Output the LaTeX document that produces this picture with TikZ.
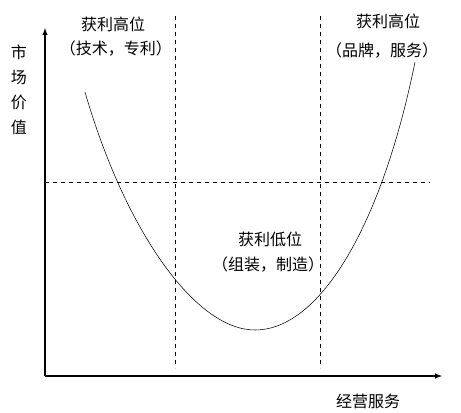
\documentclass[tikz,border=0pt]{standalone}
\usepackage{fontspec}
\setmainfont{Noto Sans CJK SC}
\usepackage{tikz}

\begin{document}
\begin{tikzpicture}[x=0.75pt,y=-0.75pt,font=\fontsize{12}{14}\selectfont]
            \useasboundingbox (0,0) rectangle (461,412);
            \coordinate (O) at (45,376);
            \coordinate (Ytop) at (45,28);
            \coordinate (Xend) at (442,376);
            \draw[thick,->,>=latex] (O)--(Ytop);
            \draw[thick,->,>=latex] (O)--(Xend);
            \draw[dashed] (175,16)--(175,368);
            \draw[dashed] (320,16)--(320,368);
            \draw[dashed] (45,182)--(430,182);
            \draw (85,92) .. controls (125,230) and (195,330) .. (255,330)
                          .. controls (320,330) and (382,225) .. (415,62);
            \draw (19,90) node[align=center,font=\fontsize{12}{18.75}\selectfont] (ylab) {市\\场\\价\\值};
            \draw (368,401) node (xlab) {经营服务};
            \draw (113,24) node (hi1) {获利高位};
            \draw (116,49) node (hi1b) {（技术，专利）};
            \draw (388,21) node (hi2) {获利高位};
            \draw (382,51) node (hi2b) {（品牌，服务）};
            \draw (270,239) node (lo) {获利低位};
            \draw (268,265) node (lob) {（组装，制造）};
        \end{tikzpicture}
\end{document}
